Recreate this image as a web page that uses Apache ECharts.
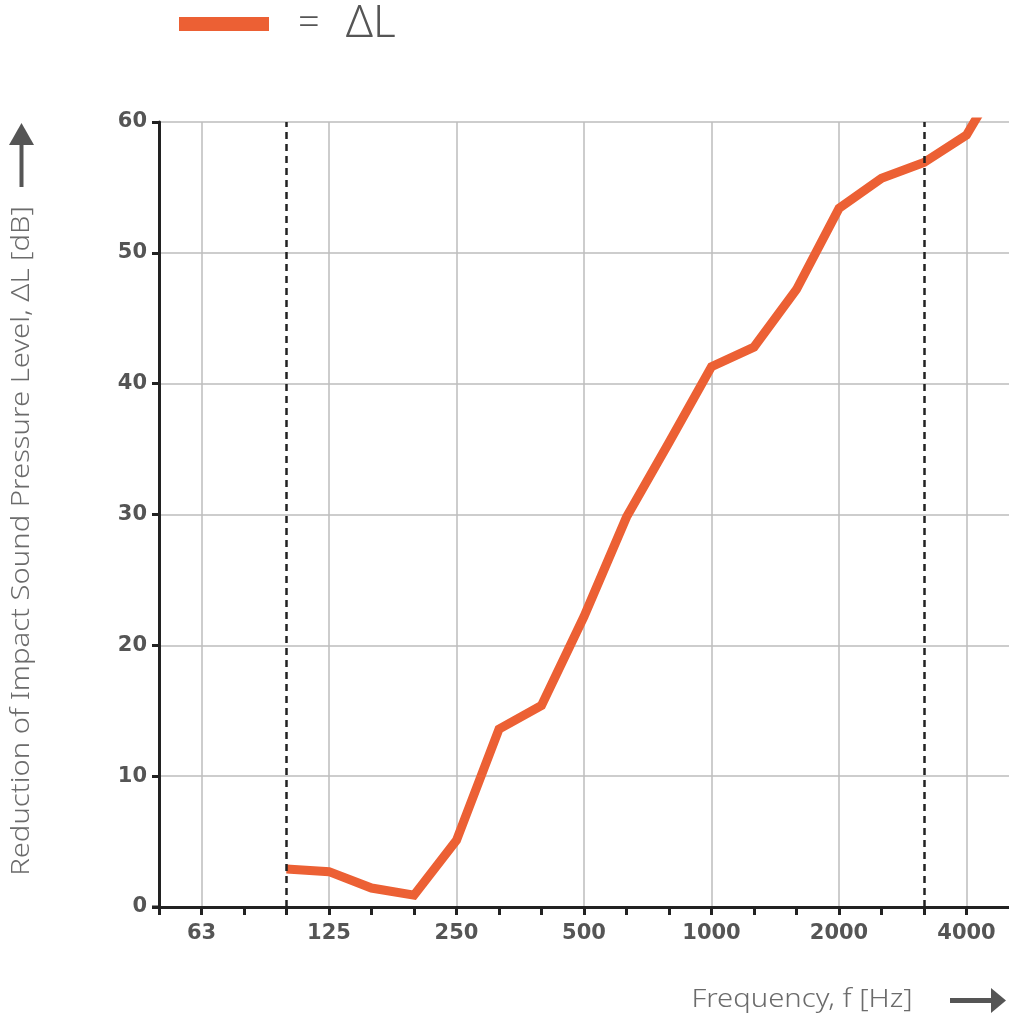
<!DOCTYPE html>
<html>
<head>
<meta charset="utf-8">
<script src="https://cdn.jsdelivr.net/npm/echarts@6/dist/echarts.min.js"></script>
<style>
html,body{margin:0;padding:0;background:#fff;}
#chart{width:1009px;height:1018px;}
</style>
</head>
<body>
<div id="chart"></div>
<script>
// Third-octave band centre frequencies (Hz)
const bands = ['50','63','80','100','125','160','200','250','315','400','500','630','800','1000','1250','1600','2000','2500','3150','4000','5000'];
// Octave bands that carry a label and a grid line
const labelBands = ['63','125','250','500','1000','2000','4000'];
// Measurement range limits (dashed lines)
const limitBands = ['100','3150'];
// Reduction of impact sound pressure level ΔL [dB]
const deltaL = [null,null,null,2.9,2.7,1.45,0.9,5.1,13.6,15.4,22.2,29.8,35.5,41.3,42.8,47.2,53.4,55.7,56.9,59.0,64.5];
const seriesName = 'ΔL';

const chart = echarts.init(document.getElementById('chart'));
const ORANGE = '#ec6034';
const DARK = '#222';
const LABEL = '#555';
const TITLE = '#6b6b6b';
const FONT = '"Noto Sans", "Open Sans", sans-serif';
const TICKFONT = '"DejaVu Sans", "Noto Sans", sans-serif';

chart.setOption({
  animation: false,
  backgroundColor: '#fff',
  legend: {
    left: 179, top: 2,
    padding: 0,
    icon: 'rect',
    itemWidth: 90, itemHeight: 14,
    data: [seriesName],
    formatter: '{eq|=}{name|{name}}',
    selectedMode: false,
    textStyle: {
      rich: {
        eq: {fontFamily: FONT, fontWeight: 300, fontSize: 38, color: LABEL, padding: [0, 26, 0, 24]},
        name: {fontFamily: FONT, fontWeight: 300, fontSize: 44, color: LABEL}
      }
    }
  },
  grid: {left: 159, right: 0, top: 122, bottom: 111, containLabel: false},
  xAxis: {
    type: 'category',
    data: bands,
    boundaryGap: false,
    axisLine: {lineStyle: {color: DARK, width: 3}},
    axisTick: {show: true, interval: (i) => i < bands.length - 1, length: 8, lineStyle: {color: DARK, width: 3}},
    axisLabel: {
      interval: (i, v) => labelBands.includes(v),
      margin: 16,
      fontFamily: TICKFONT, fontWeight: 'bold', fontSize: 21, color: LABEL
    },
    splitLine: {
      show: true,
      interval: (i, v) => labelBands.includes(v),
      lineStyle: {color: '#bdbdbd', width: 1.5}
    }
  },
  yAxis: {
    type: 'value',
    min: 0, max: 60, interval: 10,
    axisLine: {show: true, lineStyle: {color: DARK, width: 3}},
    axisTick: {show: true, length: 7, lineStyle: {color: DARK, width: 3}},
    axisLabel: {margin: 12, fontFamily: TICKFONT, fontWeight: 'bold', fontSize: 21, color: LABEL},
    splitLine: {show: true, lineStyle: {color: '#bdbdbd', width: 1.5}}
  },
  series: [{
    name: seriesName,
    type: 'line',
    data: deltaL,
    connectNulls: false,
    symbol: 'none',
    clip: true,
    lineStyle: {color: ORANGE, width: 9, join: 'miter'},
    itemStyle: {color: ORANGE},
    markLine: {
      silent: true,
      symbol: 'none',
      label: {show: false},
      lineStyle: {color: DARK, type: [7, 5], width: 2.5},
      data: limitBands.map(b => ({xAxis: b}))
    },
    z: 3
  }],
  graphic: [
    // Y-axis title
    {
      type: 'text',
      x: 22, y: 541,
      rotation: Math.PI / 2,
      scaleX: 1.125,
      style: {
        text: 'Reduction of Impact Sound Pressure Level, ΔL [dB]',
        fontFamily: FONT, fontWeight: 300, fontSize: 26, fill: TITLE,
        align: 'center', verticalAlign: 'middle'
      }
    },
    // Y arrow
    {type: 'rect', shape: {x: 19.5, y: 140, width: 4, height: 47}, style: {fill: '#555'}},
    {type: 'polygon', shape: {points: [[21.5, 123], [9, 145], [34, 145]]}, style: {fill: '#555'}},
    // X-axis title
    {
      type: 'text',
      x: 802, y: 1000,
      scaleX: 1.125,
      style: {
        text: 'Frequency, f [Hz]',
        fontFamily: FONT, fontWeight: 300, fontSize: 26, fill: TITLE,
        align: 'center', verticalAlign: 'middle'
      }
    },
    // X arrow
    {type: 'rect', shape: {x: 950, y: 998, width: 45, height: 5}, style: {fill: '#555'}},
    {type: 'polygon', shape: {points: [[1006, 1000.5], [991, 988], [991, 1013]]}, style: {fill: '#555'}},
    // short extension of the x-axis line left of the y-axis
    {type: 'rect', shape: {x: 152, y: 905.5, width: 8, height: 3}, style: {fill: DARK}}
  ]
});
</script>
</body>
</html>
